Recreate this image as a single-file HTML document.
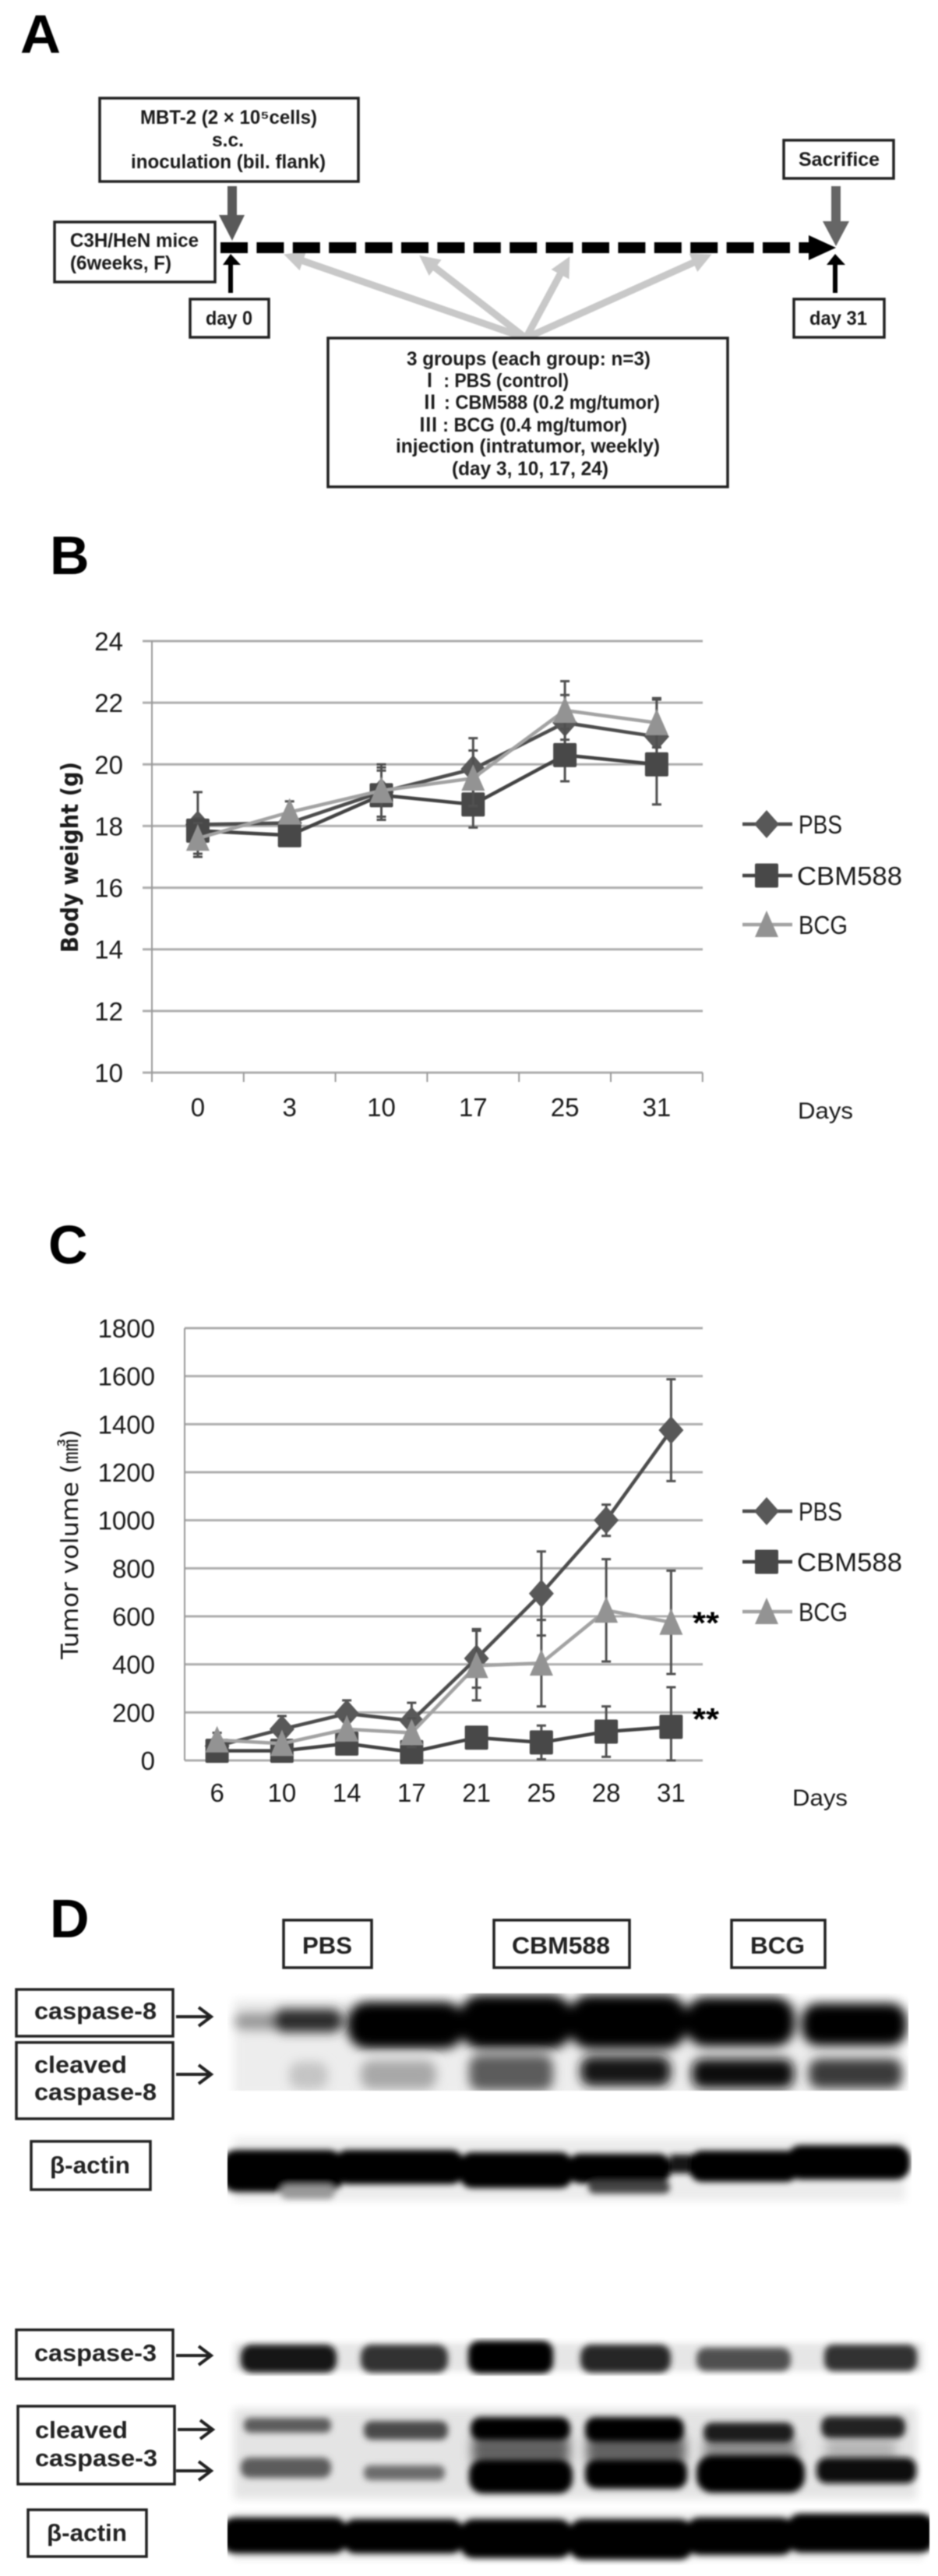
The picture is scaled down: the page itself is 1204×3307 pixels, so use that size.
<!DOCTYPE html>
<html lang="en">
<head>
<meta charset="utf-8">
<title>Tumor study figure</title>
<style>
html,body{margin:0;padding:0;background:#fff;}
#figure{display:block;width:1204px;height:3307px;filter:blur(0.9px);}
text{font-family:"Liberation Sans","Noto Sans CJK JP",sans-serif;fill:#1a1a1a;}
.letter{font-weight:bold;font-size:70px;fill:#000;}
.box{fill:#fff;stroke:#222;stroke-width:3.5;}
.a{font-size:25px;font-weight:bold;}
.d{font-size:31px;font-weight:bold;fill:#222;}
</style>
</head>
<body>
<svg id="figure" xmlns="http://www.w3.org/2000/svg" width="1204" height="3307" viewBox="0 0 1204 3307">
<defs>
<marker id="gh" viewBox="0 0 10 10" refX="3" refY="5" markerWidth="28" markerHeight="26" markerUnits="userSpaceOnUse" orient="auto"><path d="M0 0L10 5L0 10z" fill="#c8c8c8"/></marker>
<filter id="b7" filterUnits="userSpaceOnUse" x="0" y="2400" width="1204" height="907"><feGaussianBlur stdDeviation="7"/></filter>
<filter id="b5" filterUnits="userSpaceOnUse" x="0" y="2400" width="1204" height="907"><feGaussianBlur stdDeviation="5.5"/></filter>
<filter id="b3" filterUnits="userSpaceOnUse" x="0" y="2400" width="1204" height="907"><feGaussianBlur stdDeviation="4"/></filter>
<clipPath id="c1"><rect x="292" y="2559" width="874" height="125"/></clipPath>
<clipPath id="c2"><rect x="292" y="2737" width="878" height="95"/></clipPath>
<clipPath id="c3"><rect x="292" y="3001" width="901" height="49"/></clipPath>
<clipPath id="c4"><rect x="292" y="3085" width="893" height="131"/></clipPath>
<clipPath id="c5"><rect x="292" y="3219" width="901" height="74"/></clipPath>
</defs>

<!-- PANEL A -->
<g>
<text class="letter" x="26" y="68" textLength="52" lengthAdjust="spacingAndGlyphs">A</text>

<g>
<rect class="box" x="128" y="126" width="332" height="107"/>
<text class="a" x="180" y="159" textLength="227" lengthAdjust="spacingAndGlyphs">MBT-2 (2 × 10⁵cells)</text>
<text class="a" x="272" y="188" textLength="41" lengthAdjust="spacingAndGlyphs">s.c.</text>
<text class="a" x="168" y="216" textLength="250" lengthAdjust="spacingAndGlyphs">inoculation (bil. flank)</text>
</g>
<g>
<rect class="box" x="1006" y="180" width="141" height="49"/>
<text class="a" x="1025" y="213" textLength="104" lengthAdjust="spacingAndGlyphs">Sacrifice</text>
</g>
<g>
<rect class="box" x="70" y="285" width="206" height="77"/>
<text class="a" x="90" y="317" textLength="165" lengthAdjust="spacingAndGlyphs">C3H/HeN mice</text>
<text class="a" x="90" y="346" textLength="130" lengthAdjust="spacingAndGlyphs">(6weeks, F)</text>
</g>
<g>
<rect class="box" x="244" y="384" width="101" height="49"/>
<text class="a" x="264" y="417" textLength="60" lengthAdjust="spacingAndGlyphs">day 0</text>
</g>
<g>
<rect class="box" x="1019" y="384" width="116" height="49"/>
<text class="a" x="1039" y="417" textLength="74" lengthAdjust="spacingAndGlyphs">day 31</text>
</g>

<g stroke="#c8c8c8" stroke-width="9" fill="none">
<line x1="675" y1="434" x2="381.5" y2="332.4" marker-end="url(#gh)"/>
<line x1="675" y1="434" x2="552.5" y2="339" marker-end="url(#gh)"/>
<line x1="675" y1="434" x2="722.7" y2="345.3" marker-end="url(#gh)"/>
<line x1="675" y1="434" x2="897" y2="334" marker-end="url(#gh)"/>
</g>

<g>
<rect class="box" x="421" y="434" width="513" height="191"/>
<text class="a" x="522" y="469" textLength="313" lengthAdjust="spacingAndGlyphs">3 groups (each group: n=3)</text>
<text class="a" x="540" y="497" textLength="190" lengthAdjust="spacingAndGlyphs">Ⅰ : PBS (control)</text>
<text class="a" x="540" y="525" textLength="307" lengthAdjust="spacingAndGlyphs">Ⅱ : CBM588 (0.2 mg/tumor)</text>
<text class="a" x="538" y="554" textLength="267" lengthAdjust="spacingAndGlyphs">Ⅲ : BCG (0.4 mg/tumor)</text>
<text class="a" x="508" y="581" textLength="339" lengthAdjust="spacingAndGlyphs">injection (intratumor, weekly)</text>
<text class="a" x="580" y="610" textLength="201" lengthAdjust="spacingAndGlyphs">(day 3, 10, 17, 24)</text>
</g>

<g>
<line x1="283" y1="318" x2="1040" y2="318" stroke="#000" stroke-width="14" stroke-dasharray="35 11.4"/>
<polygon points="1038,302 1073,318 1038,334" fill="#000"/>
</g>
<polygon points="292,239 304,239 304,276 314,276 298,309 281,276 292,276" fill="#595959"/>
<polygon points="1067,239 1079,239 1079,284 1090,284 1073,316 1056,284 1067,284" fill="#666"/>
<polygon points="293,376 299,376 299,340 309,340 296,326 286,340 293,340" fill="#000"/>
<polygon points="1069,376 1075,376 1075,340 1085,340 1072,326 1061,340 1069,340" fill="#000"/>
</g>

<!-- PANEL B / C containers filled by script -->
<g id="panel-b">
<text class="letter" x="64" y="737">B</text>
</g>
<g id="panel-c">
<text class="letter" x="62" y="1622">C</text>
</g>

<!-- PANEL D -->
<g>
<text class="letter" x="64" y="2487">D</text>

<g clip-path="url(#c1)">
<rect x="300" y="2567" width="858" height="125" fill="#ededed" filter="url(#b5)"/>
<g filter="url(#b7)">
<rect x="301" y="2584" width="80" height="22" rx="11" fill="#999"/>
<rect x="350" y="2579" width="90" height="30" rx="14" fill="#2c2c2c"/>
<rect x="446" y="2570" width="150" height="60" rx="26" fill="#000"/>
<rect x="590" y="2561" width="145" height="69" rx="28" fill="#000"/>
<rect x="730" y="2561" width="152" height="69" rx="28" fill="#000"/>
<rect x="880" y="2564" width="140" height="63" rx="26" fill="#000"/>
<rect x="1029" y="2572" width="135" height="54" rx="22" fill="#000"/>
<rect x="371" y="2647" width="50" height="35" rx="14" fill="#c4c4c4"/>
<rect x="463" y="2645" width="97" height="37" rx="14" fill="#a8a8a8"/>
<rect x="602" y="2638" width="108" height="46" rx="14" fill="#5c5c5c"/>
<rect x="745" y="2640" width="116" height="38" rx="14" fill="#161616"/>
<rect x="888" y="2643" width="131" height="38" rx="14" fill="#101010"/>
<rect x="1038" y="2643" width="120" height="38" rx="14" fill="#3a3a3a"/>
</g>
</g>

<g clip-path="url(#c2)">
<rect x="300" y="2745" width="862" height="80" fill="#ececec" filter="url(#b5)"/>
<g filter="url(#b3)">
<rect x="285" y="2760" width="155" height="54" rx="18" fill="#000"/>
<rect x="360" y="2805" width="70" height="18" rx="9" fill="#999"/>
<rect x="430" y="2760" width="165" height="44" rx="16" fill="#000"/>
<rect x="590" y="2763" width="145" height="46" rx="16" fill="#000"/>
<rect x="730" y="2765" width="130" height="38" rx="14" fill="#050505"/>
<rect x="755" y="2800" width="105" height="16" rx="8" fill="#444"/>
<rect x="860" y="2766" width="30" height="24" fill="#181818"/>
<rect x="885" y="2761" width="140" height="40" rx="16" fill="#000"/>
<rect x="1010" y="2754" width="158" height="44" rx="18" fill="#000"/>
</g>
</g>

<g clip-path="url(#c3)">
<rect x="300" y="3008" width="885" height="36" fill="#e6e6e6" filter="url(#b3)"/>
<g filter="url(#b3)">
<rect x="309" y="3010" width="123" height="36" rx="14" fill="#181818"/>
<rect x="463" y="3010" width="112" height="36" rx="14" fill="#303030"/>
<rect x="601" y="3005" width="109" height="42" rx="14" fill="#000"/>
<rect x="745" y="3010" width="116" height="36" rx="14" fill="#262626"/>
<rect x="894" y="3014" width="121" height="30" rx="12" fill="#505050"/>
<rect x="1058" y="3010" width="119" height="34" rx="12" fill="#303030"/>
</g>
</g>

<g clip-path="url(#c4)">
<rect x="300" y="3092" width="877" height="116" fill="#e4e4e4" filter="url(#b5)"/>
<g filter="url(#b7)">
<rect x="606" y="3128" width="125" height="34" fill="#606060"/>
<rect x="753" y="3128" width="127" height="34" fill="#606060"/>
<rect x="903" y="3132" width="120" height="28" fill="#8c8c8c"/>
<rect x="1060" y="3132" width="90" height="28" fill="#b4b4b4"/>
</g>
<g filter="url(#b3)">
<rect x="313" y="3104" width="112" height="19" rx="8" fill="#5c5c5c"/>
<rect x="467" y="3108" width="108" height="24" rx="10" fill="#484848"/>
<rect x="604" y="3103" width="128" height="30" rx="13" fill="#000"/>
<rect x="751" y="3103" width="127" height="32" rx="13" fill="#000"/>
<rect x="903" y="3110" width="116" height="26" rx="11" fill="#1c1c1c"/>
<rect x="1054" y="3102" width="108" height="28" rx="11" fill="#222"/>
<rect x="309" y="3155" width="116" height="26" rx="11" fill="#5c5c5c"/>
<rect x="467" y="3165" width="104" height="19" rx="8" fill="#6c6c6c"/>
<rect x="602" y="3157" width="133" height="44" rx="18" fill="#000"/>
<rect x="751" y="3157" width="131" height="38" rx="15" fill="#000"/>
<rect x="894" y="3152" width="139" height="48" rx="20" fill="#000"/>
<rect x="1048" y="3155" width="128" height="33" rx="13" fill="#080808"/>
</g>
</g>

<g clip-path="url(#c5)">
<rect x="300" y="3225" width="885" height="62" fill="#eeeeee" filter="url(#b3)"/>
<g filter="url(#b3)">
<rect x="285" y="3232" width="160" height="46" rx="16" fill="#000"/>
<rect x="440" y="3234" width="155" height="44" rx="16" fill="#000"/>
<rect x="590" y="3234" width="145" height="50" rx="18" fill="#000"/>
<rect x="730" y="3234" width="160" height="52" rx="18" fill="#000"/>
<rect x="880" y="3232" width="140" height="48" rx="18" fill="#000"/>
<rect x="1010" y="3227" width="190" height="50" rx="18" fill="#000"/>
</g>
</g>

<g>
<rect class="box" x="364" y="2465" width="113" height="61"/>
<text class="d" x="388" y="2508" textLength="64" lengthAdjust="spacingAndGlyphs">PBS</text>
</g>
<g>
<rect class="box" x="634" y="2465" width="174" height="61"/>
<text class="d" x="657" y="2508" textLength="126" lengthAdjust="spacingAndGlyphs">CBM588</text>
</g>
<g>
<rect class="box" x="939" y="2465" width="120" height="61"/>
<text class="d" x="963" y="2508" textLength="70" lengthAdjust="spacingAndGlyphs">BCG</text>
</g>

<g>
<rect class="box" x="21" y="2554" width="201" height="60"/>
<text class="d" x="44" y="2592" textLength="157" lengthAdjust="spacingAndGlyphs">caspase-8</text>
</g>
<g>
<rect class="box" x="21" y="2622" width="201" height="98"/>
<text class="d" x="44" y="2661" textLength="119" lengthAdjust="spacingAndGlyphs">cleaved</text>
<text class="d" x="44" y="2696" textLength="157" lengthAdjust="spacingAndGlyphs">caspase-8</text>
</g>
<g>
<rect class="box" x="40" y="2749" width="153" height="62"/>
<text class="d" x="64" y="2790" textLength="103" lengthAdjust="spacingAndGlyphs">β-actin</text>
</g>
<g>
<rect class="box" x="21" y="2991" width="201" height="63"/>
<text class="d" x="44" y="3031" textLength="157" lengthAdjust="spacingAndGlyphs">caspase-3</text>
</g>
<g>
<rect class="box" x="23" y="3089" width="201" height="100"/>
<text class="d" x="45" y="3130" textLength="119" lengthAdjust="spacingAndGlyphs">cleaved</text>
<text class="d" x="45" y="3166" textLength="157" lengthAdjust="spacingAndGlyphs">caspase-3</text>
</g>
<g>
<rect class="box" x="36" y="3222" width="152" height="60"/>
<text class="d" x="60" y="3262" textLength="103" lengthAdjust="spacingAndGlyphs">β-actin</text>
</g>

<g fill="none" stroke="#222" stroke-width="4">
<path d="M226 2589H271M255 2577L271 2589L255 2601"/>
<path d="M226 2663H271M255 2651L271 2663L255 2675"/>
<path d="M226 3024H271M255 3012L271 3024L255 3036"/>
<path d="M228 3119H273M257 3107L273 3119L257 3131"/>
<path d="M226 3172H271M255 3160L271 3172L255 3184"/>
</g>
</g>

<script>
// Panel B data
const bCategories = ['0', '3', '10', '17', '25', '31'];
const bYTicks = [10, 12, 14, 16, 18, 20, 22, 24];
const bPbs = [18.05, 18.1, 19.1, 19.85, 21.35, 20.9];
const bCbm = [17.85, 17.7, 19.0, 18.7, 20.3, 20.0];
const bBcg = [17.6, 18.45, 19.15, 19.55, 21.75, 21.35];
const bPbsErr = [1.05, 0.3, 0.8, 1.0, 0.9, 1.2];
const bCbmErr = [0.4, 0.2, 0.8, 0.75, 0.85, 1.3];
const bBcgErr = [0.5, 0.35, 0.85, 0.9, 0.95, 0.8];

// Panel C data
const cCategories = ['6', '10', '14', '17', '21', '25', '28', '31'];
const cYTicks = [0, 200, 400, 600, 800, 1000, 1200, 1400, 1600, 1800];
const cPbs = [60, 130, 195, 165, 425, 695, 1000, 1375];
const cCbm = [40, 40, 70, 35, 95, 75, 120, 140];
const cBcg = [85, 70, 130, 115, 395, 405, 625, 575];
const cPbsErr = [30, 55, 55, 75, 122, 175, 65, 212];
const cCbmErr = [15, 15, 20, 15, 20, 70, 105, 165];
const cBcgErr = [30, 40, 40, 60, 145, 180, 213, 215];
const cSignificance = [590, 190];

const seriesNames = ['PBS', 'CBM588', 'BCG'];

const NS = 'http://www.w3.org/2000/svg';
const LINE_COLORS = ['#4c4c4c', '#424242', '#a2a2a2'];
const MARK_COLORS = ['#585858', '#484848', '#939393'];

function make(tag, attrs, parent, txt) {
  const el = document.createElementNS(NS, tag);
  for (const k in attrs) el.setAttribute(k, attrs[k]);
  if (txt !== undefined) el.textContent = txt;
  parent.appendChild(el);
  return el;
}

function drawMarker(kind, cx, cy, parent, name) {
  let el;
  if (kind === 0) {
    el = make('polygon', {points: (cx-16)+','+cy+' '+cx+','+(cy-18)+' '+(cx+16)+','+cy+' '+cx+','+(cy+18), fill: MARK_COLORS[0]}, parent);
  } else if (kind === 1) {
    el = make('rect', {x: cx-15, y: cy-15.5, width: 30, height: 31, rx: 2, fill: MARK_COLORS[1]}, parent);
  } else {
    el = make('polygon', {points: (cx-15)+','+(cy+16)+' '+cx+','+(cy-18)+' '+(cx+15)+','+(cy+16), fill: MARK_COLORS[2]}, parent);
  }
  
  
}

function drawAxes(parent, cats, ticks, x, y, x0, x1, axisTop, axisBottom, labelRight, labelY, hasTicks) {
  ticks.forEach(function (t) {
    const grid = make('line', {x1: hasTicks ? x0 - 12 : x0, x2: x1, y1: y(t), y2: y(t), stroke: '#adadad', 'stroke-width': 3}, parent);
    
    
    const lab = make('text', {x: labelRight, y: y(t) + 12, 'text-anchor': 'end', 'font-size': 33}, parent, String(t));
    
    
  });
  const axis = make('line', {x1: x0, x2: x0, y1: axisTop, y2: axisBottom + (hasTicks ? 12 : 0), stroke: '#999', 'stroke-width': 2}, parent);
  
  
  cats.forEach(function (c, i) {
    if (hasTicks) {
      const tk = make('line', {x1: x(i + 0.5), x2: x(i + 0.5), y1: axisBottom, y2: axisBottom + 12, stroke: '#999', 'stroke-width': 2}, parent);
      
      
    }
    const lab = make('text', {x: x(i), y: labelY, 'text-anchor': 'middle', 'font-size': 33}, parent, c);
    
    
  });
}

function drawSeries(parent, vals, errs, x, y, kind, name) {
  const g = make('g', {}, parent);
  
  
  vals.forEach(function (v, i) {
    const bar = make('path', {
      d: 'M' + (x(i) - 6) + ' ' + y(v + errs[i]) + 'H' + (x(i) + 6) +
         'M' + x(i) + ' ' + y(v + errs[i]) + 'V' + y(Math.max(v - errs[i], 0)) +
         'M' + (x(i) - 6) + ' ' + y(Math.max(v - errs[i], 0)) + 'H' + (x(i) + 6),
      stroke: '#505050', 'stroke-width': 3, fill: 'none'}, g);
    
    
  });
  const line = make('polyline', {
    points: vals.map(function (v, i) { return x(i) + ',' + y(v); }).join(' '),
    fill: 'none', stroke: LINE_COLORS[kind], 'stroke-width': 4.5}, g);
  
  
  return g;
}

function drawMarkers(g, vals, x, y, kind, name) {
  vals.forEach(function (v, i) { drawMarker(kind, x(i), y(v), g, 'marker-' + name); });
}

function drawLegend(parent, rows) {
  const widths = [56, 135, 63];
  const textX = [1025, 1023, 1025];
  seriesNames.forEach(function (n, i) {
    const g = make('g', {}, parent);
    
    
    make('line', {x1: 953, x2: 1017, y1: rows[i], y2: rows[i], stroke: LINE_COLORS[i], 'stroke-width': 4.5}, g);
    drawMarker(i, 984, rows[i], g, 'legend-marker-' + n.toLowerCase());
    make('text', {x: textX[i], y: rows[i] + 12, 'font-size': 33, textLength: widths[i], lengthAdjust: 'spacingAndGlyphs'}, g, n);
  });
}

function xB(i) { return 195 + (i + 0.5) * 117.8; }
function yB(v) { return 1377 - (v - 10) * (1377 - 823) / 14; }
function xC(i) { return 237 + (i + 0.5) * 83.25; }
function yC(v) { return 2260 - v * 555 / 1800; }

// Panel B
const pb = document.getElementById('panel-b');
drawAxes(pb, bCategories, bYTicks, xB, yB, 195, 902, 823, 1377, 158, 1433, true);
const bS0 = drawSeries(pb, bPbs, bPbsErr, xB, yB, 0, 'pbs');
const bS1 = drawSeries(pb, bCbm, bCbmErr, xB, yB, 1, 'cbm588');
const bS2 = drawSeries(pb, bBcg, bBcgErr, xB, yB, 2, 'bcg');
drawMarkers(bS0, bPbs, xB, yB, 0, 'pbs');
drawMarkers(bS1, bCbm, xB, yB, 1, 'cbm588');
drawMarkers(bS2, bBcg, xB, yB, 2, 'bcg');
drawLegend(pb, [1058, 1124, 1187]);
const bTitle = make('text', {transform: 'translate(100,1223) rotate(-90)', 'font-size': 30, 'font-weight': 'bold', textLength: 245, lengthAdjust: 'spacingAndGlyphs', style: 'font-family:"DejaVu Sans",sans-serif'}, pb, 'Body weight (g)');


const bDays = make('text', {x: 1024, y: 1436, 'font-size': 30, textLength: 71, lengthAdjust: 'spacingAndGlyphs'}, pb, 'Days');



// Panel C
const pc = document.getElementById('panel-c');
drawAxes(pc, cCategories, cYTicks, xC, yC, 237, 902, 1705, 2260, 199, 2313, false);
const cS0 = drawSeries(pc, cPbs, cPbsErr, xC, yC, 0, 'pbs');
const cS1 = drawSeries(pc, cCbm, cCbmErr, xC, yC, 1, 'cbm588');
const cS2 = drawSeries(pc, cBcg, cBcgErr, xC, yC, 2, 'bcg');
drawMarkers(cS0, cPbs, xC, yC, 0, 'pbs');
drawMarkers(cS1, cCbm, xC, yC, 1, 'cbm588');
drawMarkers(cS2, cBcg, xC, yC, 2, 'bcg');
drawLegend(pc, [1940, 2005, 2069]);
const cTitle = make('text', {transform: 'translate(100,2130) rotate(-90)', 'font-size': 30, textLength: 295, lengthAdjust: 'spacingAndGlyphs', style: 'font-family:"DejaVu Sans","Noto Sans CJK JP",sans-serif'}, pc, 'Tumor volume (㎣)');


const cDays = make('text', {x: 1017, y: 2318, 'font-size': 30, textLength: 71, lengthAdjust: 'spacingAndGlyphs'}, pc, 'Days');


cSignificance.forEach(function (v) {
  const star = make('text', {x: 889, y: yC(v) + 19, 'font-size': 40, 'font-weight': 'bold', textLength: 34, lengthAdjust: 'spacingAndGlyphs', style: 'fill:#000'}, pc, '**');
  
  
});
</script>
</svg>
</body>
</html>
